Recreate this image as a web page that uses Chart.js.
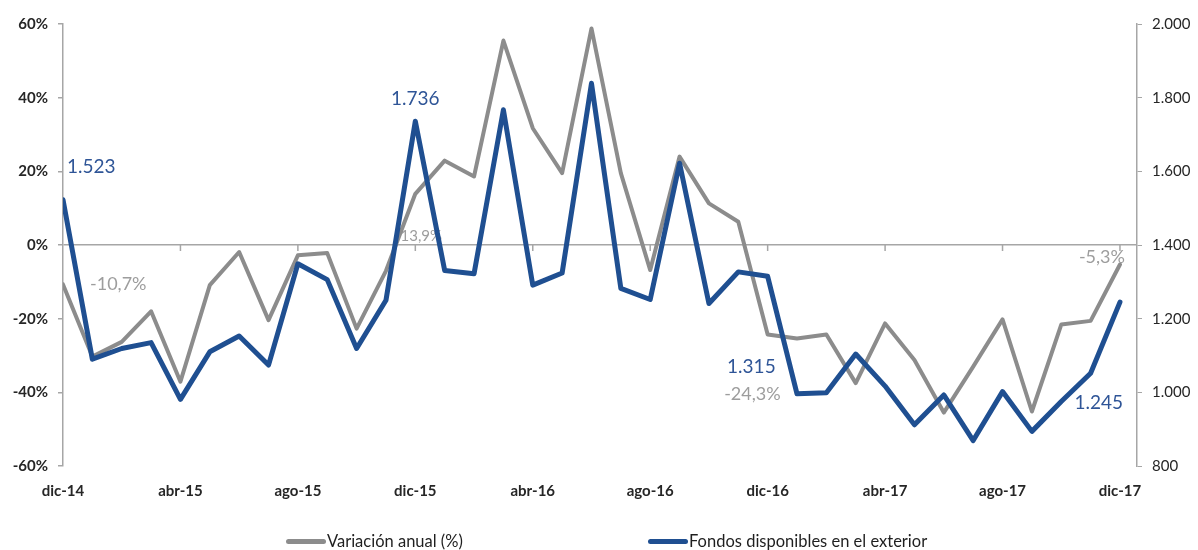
<!DOCTYPE html>
<html>
<head>
<meta charset="utf-8">
<script src="https://cdn.jsdelivr.net/npm/chart.js@4/dist/chart.umd.min.js"></script>
<style>
    body { margin: 0; background: #fff; }
    .wrap { position: relative; width: 1198px; height: 550px; }
    .legend-item {
        position: absolute;
        top: 531px;
        height: 20px;
        display: flex;
        align-items: center;
        font-family: Lato, sans-serif;
        font-size: 16.5px;
        color: #1f1f1f;
        white-space: nowrap;
    }
    .legend-item .swatch {
        display: inline-block;
        width: 40px;
        height: 5px;
        border-radius: 3px;
        margin-right: 1px;
    }
</style>
</head>
<body>
<div class="wrap">
    <canvas id="chart" width="1198" height="550"></canvas>
    <div class="legend-item" style="left:286px"><span class="swatch" style="background:#8c8c8c"></span>Variación anual (%)</div>
    <div class="legend-item" style="left:648px"><span class="swatch" style="background:#1f4f91"></span>Fondos disponibles en el exterior</div>
</div>
<script>
// Months from dic-14 to dic-17
const months = ['dic-14', 'ene-15', 'feb-15', 'mar-15', 'abr-15', 'may-15', 'jun-15', 'jul-15',
    'ago-15', 'sep-15', 'oct-15', 'nov-15', 'dic-15', 'ene-16', 'feb-16', 'mar-16', 'abr-16',
    'may-16', 'jun-16', 'jul-16', 'ago-16', 'sep-16', 'oct-16', 'nov-16', 'dic-16', 'ene-17',
    'feb-17', 'mar-17', 'abr-17', 'may-17', 'jun-17', 'jul-17', 'ago-17', 'sep-17', 'oct-17',
    'nov-17', 'dic-17'];

// Variación anual (%), left axis
const variacionAnual = [-10.7, -30.3, -26.3, -18.0, -37.1, -10.9, -1.9, -20.4, -2.8, -2.2,
    -22.7, -7.0, 13.9, 22.9, 18.6, 55.5, 31.7, 19.5, 58.8, 19.5, -6.8, 24.0, 11.3, 6.3,
    -24.3, -25.4, -24.3, -37.5, -21.3, -31.2, -45.5, -33.0, -20.2, -45.2, -21.6, -20.6, -5.3];

// Fondos disponibles en el exterior, right axis
const fondos = [1523, 1090, 1119, 1135, 981, 1110, 1153, 1074, 1349, 1306, 1119, 1250,
    1736, 1331, 1322, 1767, 1291, 1324, 1839, 1282, 1252, 1622, 1241, 1327, 1315, 996,
    999, 1104, 1017, 912, 993, 869, 1002, 894, 975, 1052, 1245];

// Axis ticks
const pctTicks = [-60, -40, -20, 0, 20, 40, 60];
const fondosTicks = [800, 1000, 1200, 1400, 1600, 1800, 2000];

const GRAY = '#8c8c8c';
const BLUE = '#1f4f91';
const AXIS = '#a6a6a6';
const TEXT = '#262626';

function fmtMiles(v) {
    return String(v).replace(/\B(?=(\d{3})+(?!\d))/g, '.');
}

// Value labels: dataset index, point index, text, offset from point
const valueLabels = [
    { ds: 1, i: 0, text: '1.523', dx: 4, dy: -33, align: 'left' },
    { ds: 1, i: 12, text: '1.736', dx: 0, dy: -22, align: 'center' },
    { ds: 1, i: 24, text: '1.315', dx: 8, dy: 91, align: 'right' },
    { ds: 1, i: 36, text: '1.245', dx: 3, dy: 101, align: 'right' },
    { ds: 0, i: 0, text: '-10,7%', dx: 27, dy: 0, align: 'left' },
    { ds: 0, i: 12, text: '13,9%', dx: 6, dy: 42, align: 'center', size: 15 },
    { ds: 0, i: 24, text: '-24,3%', dx: 13, dy: 60, align: 'right' },
    { ds: 0, i: 36, text: '-5,3%', dx: 5, dy: -7, align: 'right' }
];

// tick marks on the zero line + value labels (behind the lines)
const extrasPlugin = {
    id: 'extras',
    beforeDatasetsDraw(chart) {
        const ctx = chart.ctx;
        const x = chart.scales.x;
        const y0 = chart.scales.y.getPixelForValue(0);
        ctx.save();
        ctx.strokeStyle = AXIS;
        ctx.lineWidth = 1.5;
        for (let i = 4; i < months.length; i += 4) {
            const px = x.getPixelForValue(i);
            ctx.beginPath();
            ctx.moveTo(px, y0);
            ctx.lineTo(px, y0 + 6);
            ctx.stroke();
        }
        ctx.textBaseline = 'middle';
        valueLabels.forEach(l => {
            const pt = chart.getDatasetMeta(l.ds).data[l.i];
            ctx.font = (l.size || (l.ds === 1 ? 19 : 18)) + 'px Lato, sans-serif';
            ctx.fillStyle = l.ds === 1 ? '#2f5597' : '#9d9d9d';
            ctx.textAlign = l.align;
            ctx.fillText(l.text, pt.x + l.dx, pt.y + l.dy);
        });
        ctx.restore();
    }
};

const tickFont = { family: 'Lato, sans-serif', size: 15, weight: 'bold' };

new Chart(document.getElementById('chart'), {
    type: 'line',
    data: {
        datasets: [
            {
                label: 'Variación anual (%)',
                data: variacionAnual.map((v, i) => ({ x: i, y: v })),
                yAxisID: 'y',
                borderColor: GRAY,
                borderWidth: 4,
                pointRadius: 0,
                borderJoinStyle: 'round',
                borderCapStyle: 'round',
                tension: 0,
                order: 1
            },
            {
                label: 'Fondos disponibles en el exterior',
                data: fondos.map((v, i) => ({ x: i, y: v })),
                yAxisID: 'y1',
                borderColor: BLUE,
                borderWidth: 5,
                pointRadius: 0,
                borderJoinStyle: 'round',
                borderCapStyle: 'round',
                tension: 0,
                order: 0
            }
        ]
    },
    options: {
        responsive: false,
        animation: false,
        layout: { padding: { top: 24, bottom: 44, left: 0, right: 0 } },
        plugins: {
            legend: { display: false },
            tooltip: { enabled: false }
        },
        scales: {
            x: {
                type: 'linear',
                min: 0,
                max: 36.58,
                afterFit: s => { s.height = 40; },
                border: { display: false },
                grid: { display: false, drawTicks: false },
                ticks: {
                    stepSize: 4,
                    includeBounds: false,
                    autoSkip: false,
                    maxRotation: 0,
                    padding: 16,
                    color: TEXT,
                    font: tickFont,
                    callback: v => (Number.isInteger(v) && v % 4 === 0) ? months[v] : null
                }
            },
            y: {
                position: 'left',
                min: pctTicks[0],
                max: pctTicks[pctTicks.length - 1],
                afterFit: s => { s.width = 63; },
                afterBuildTicks: s => { s.ticks = pctTicks.map(v => ({ value: v })); },
                border: { display: true, color: AXIS, width: 1.5 },
                grid: {
                    color: c => c.tick && c.tick.value === 0 ? AXIS : 'rgba(0,0,0,0)',
                    lineWidth: 1.5,
                    tickColor: AXIS,
                    tickLength: 5
                },
                ticks: {
                    padding: 10,
                    color: TEXT,
                    font: tickFont,
                    callback: v => v + '%'
                }
            },
            y1: {
                position: 'right',
                min: fondosTicks[0],
                max: fondosTicks[fondosTicks.length - 1],
                afterFit: s => { s.width = 61; },
                afterBuildTicks: s => { s.ticks = fondosTicks.map(v => ({ value: v })); },
                border: { display: true, color: AXIS, width: 1.5 },
                grid: {
                    drawOnChartArea: false,
                    tickColor: AXIS,
                    tickLength: 5
                },
                ticks: {
                    padding: 10,
                    color: TEXT,
                    font: { family: 'Lato, sans-serif', size: 15 },
                    callback: v => fmtMiles(v)
                }
            }
        }
    },
    plugins: [extrasPlugin]
});
</script>
</body>
</html>
